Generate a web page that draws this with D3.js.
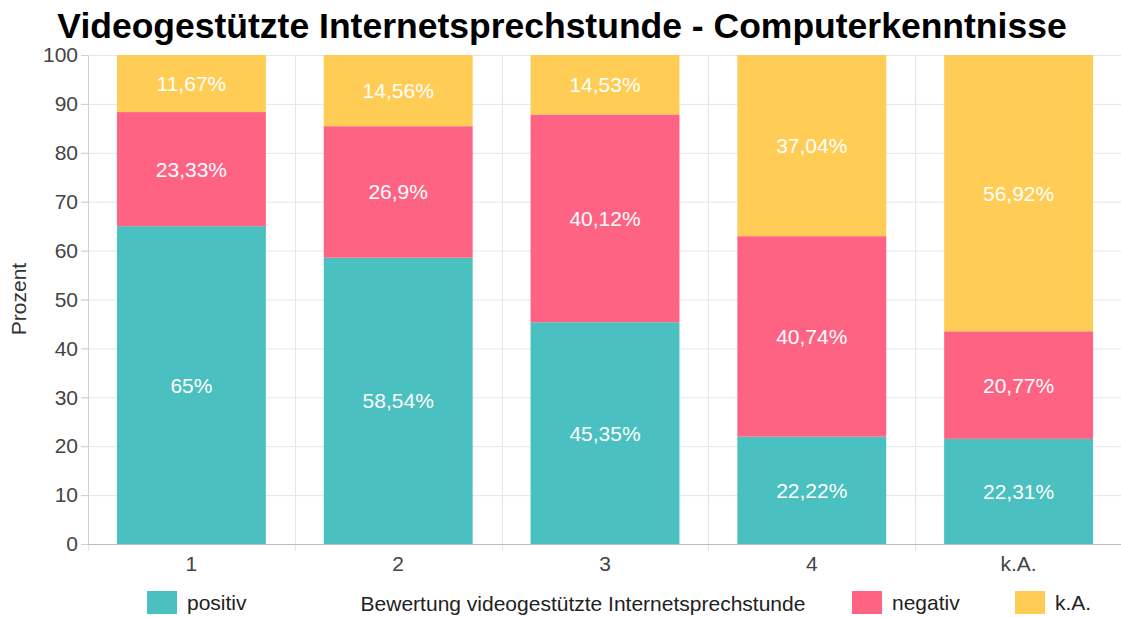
<!DOCTYPE html>
<html lang="de">
<head>
    <meta charset="UTF-8">
    <title>Videogestützte Internetsprechstunde - Computerkenntnisse</title>
    <style>
        body {
            margin: 0;
            padding: 0;
            background-color: white;
            font-family: "Liberation Sans", Arial, sans-serif;
        }
        .grid line {
            stroke: #e6e6e6;
            stroke-width: 1px;
        }
        .tick text {
            fill: #444;
            font-size: 21px;
        }
        .seg-label {
            fill: white;
            font-size: 21px;
        }
    </style>
</head>
<body>
    <svg id="chart" width="1121" height="617"></svg>

    <script src="https://d3js.org/d3.v7.min.js"></script>
    <script>
        const categories = ['1', '2', '3', '4', 'k.A.'];
        // segment heights as drawn (some segments are drawn a bit off from their printed labels)
        const positiv = [65, 58.54, 45.35, 21.95, 21.5];
        const negativ = [23.33, 26.9, 42.5, 41.0, 22.0];
        const keineAngabe = [11.67, 14.56, 14.53, 37.04, 56.92];
        // labels as printed on the segments
        const positivLabels = ['65%', '58,54%', '45,35%', '22,22%', '22,31%'];
        const negativLabels = ['23,33%', '26,9%', '40,12%', '40,74%', '20,77%'];
        const keineAngabeLabels = ['11,67%', '14,56%', '14,53%', '37,04%', '56,92%'];
        const yTicks = [0, 10, 20, 30, 40, 50, 60, 70, 80, 90, 100];

        const seriesNames = ['positiv', 'negativ', 'k.A.'];
        const seriesLabels = [positivLabels, negativLabels, keineAngabeLabels];
        const colors = ['#4bc0c0', '#ff6384', '#ffcd56'];

        const rows = categories.map((c, i) => ({
            cat: c,
            idx: i,
            positiv: positiv[i],
            negativ: negativ[i],
            'k.A.': keineAngabe[i]
        }));

        const svg = d3.select('#chart');
        const plotLeft = 88, plotRight = 1122, plotTop = 55, plotBottom = 544;

        const x = d3.scaleBand().domain(categories).range([plotLeft, plotRight]).paddingInner(0).paddingOuter(0);
        const y = d3.scaleLinear().domain([0, 100]).range([plotBottom, plotTop]).clamp(true);
        const barWidth = x.bandwidth() * 0.72;

        // title
        svg.append('text')
            .attr('x', 562)
            .attr('y', 38)
            .attr('text-anchor', 'middle')
            .attr('font-size', '35.5px')
            .attr('font-weight', 'bold')
            .attr('fill', '#000')
            .text('Videogestützte Internetsprechstunde - Computerkenntnisse');

        // horizontal gridlines
        svg.append('g').attr('class', 'grid')
            .selectAll('line')
            .data(yTicks)
            .enter().append('line')
            .attr('x1', plotLeft - 7)
            .attr('x2', plotRight)
            .attr('y1', d => y(d) + 0.5)
            .attr('y2', d => y(d) + 0.5);

        // vertical gridlines (category boundaries)
        svg.append('g').attr('class', 'grid')
            .selectAll('line')
            .data(categories)
            .enter().append('line')
            .attr('x1', d => Math.round(x(d)) + 0.5)
            .attr('x2', d => Math.round(x(d)) + 0.5)
            .attr('y1', plotTop)
            .attr('y2', plotBottom + 7);

        // stacked bars, clipped at 100
        const stack = d3.stack().keys(seriesNames)(rows);

        stack.forEach((layer, si) => {
            const g = svg.append('g');
            g.selectAll('rect')
                .data(layer)
                .enter().append('rect')
                .attr('x', d => x(d.data.cat) + (x.bandwidth() - barWidth) / 2)
                .attr('width', barWidth)
                .attr('y', d => y(d[1]))
                .attr('height', d => y(d[0]) - y(d[1]))
                .attr('fill', colors[si]);

            g.selectAll('text')
                .data(layer)
                .enter().append('text')
                .attr('class', 'seg-label')
                .attr('x', d => x(d.data.cat) + x.bandwidth() / 2)
                .attr('y', d => (y(d[0]) + y(d[1])) / 2 + 7.5)
                .attr('text-anchor', 'middle')
                .text(d => seriesLabels[si][d.data.idx]);
        });

        // y axis
        const yAxis = svg.append('g')
            .attr('transform', `translate(${plotLeft},0)`)
            .call(d3.axisLeft(y).tickValues(yTicks).tickSize(7).tickPadding(3));
        yAxis.select('.domain').attr('stroke', '#d0d0d0');
        yAxis.selectAll('.tick line').attr('stroke', '#d0d0d0');

        // x axis
        const xAxis = svg.append('g')
            .attr('transform', `translate(0,${plotBottom})`)
            .call(d3.axisBottom(x).tickSize(0).tickPadding(12));
        xAxis.select('.domain').attr('stroke', '#bbb').attr('d', `M${plotLeft},0.5H${plotRight}`);

        // y axis title
        svg.append('text')
            .attr('transform', 'translate(26,299) rotate(-90)')
            .attr('text-anchor', 'middle')
            .attr('font-size', '21px')
            .attr('fill', '#333')
            .text('Prozent');

        // x axis title
        svg.append('text')
            .attr('x', 583)
            .attr('y', 611)
            .attr('text-anchor', 'middle')
            .attr('font-size', '21px')
            .attr('fill', '#222')
            .text('Bewertung videogestützte Internetsprechstunde');

        // legend
        const legendX = [147, 852, 1015];
        const legend = svg.append('g')
            .selectAll('g')
            .data(seriesNames)
            .enter().append('g')
            .attr('transform', (d, i) => `translate(${legendX[i]},591)`);

        legend.append('rect')
            .attr('width', 30)
            .attr('height', 23)
            .attr('fill', (d, i) => colors[i]);

        legend.append('text')
            .attr('x', 40)
            .attr('y', 19)
            .attr('font-size', '21px')
            .attr('fill', '#222')
            .text(d => d);
    </script>
</body>
</html>
